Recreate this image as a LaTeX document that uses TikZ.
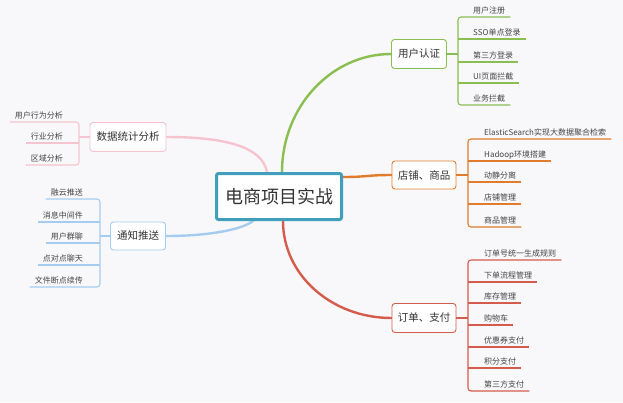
\documentclass[tikz,border=0pt]{standalone}
\usepackage{fontspec}
\setmainfont{Noto Sans CJK SC}
\usetikzlibrary{calc,backgrounds}
\definecolor{bg}{RGB}{248,247,250}
\definecolor{cteal}{RGB}{64,160,188}
\definecolor{cgreen}{RGB}{138,190,80}
\definecolor{corange}{RGB}{224,124,44}
\definecolor{cred}{RGB}{212,92,76}
\definecolor{cpink}{RGB}{245,196,206}
\definecolor{cblue}{RGB}{164,204,240}
\definecolor{ctext}{RGB}{51,51,51}
\definecolor{cleaf}{RGB}{68,68,68}
\begin{document}
\begin{tikzpicture}[x=1pt,y=-1pt,
 root/.style={draw=cteal, line width=3pt, fill=white, rounded corners=2pt, minimum width=125pt, minimum height=46pt, font=\fontsize{18}{20}\selectfont, text=ctext, inner sep=0pt},
 topic/.style={draw=#1, line width=0.9pt, fill=white, rounded corners=3pt, font=\fontsize{10.5}{12}\selectfont, text=ctext, inner sep=0pt},
 leafR/.style={anchor=south west, inner xsep=5pt, inner ysep=1.5pt, text height=7pt, text depth=1.5pt, font=\fontsize{8}{9}\selectfont, text=cleaf},
 leafL/.style={anchor=south east, inner xsep=5pt, inner ysep=1.5pt, text height=7pt, text depth=1.5pt, font=\fontsize{8}{9}\selectfont, text=cleaf},
 branch/.style={draw=#1, line width=2.4pt, line cap=round},
 twig/.style={draw=#1, line width=1.1pt, rounded corners=3pt},
]
\useasboundingbox (0,0) rectangle (623,402);

% central and topic boxes
\node[root] (c) at (279,196.5) {电商项目实战};
\node[topic=cgreen, minimum width=55pt, minimum height=29pt] (t1) at (419,54) {用户认证};
\node[topic=corange, minimum width=64pt, minimum height=28pt] (t2) at (424,175) {店铺、商品};
\node[topic=cred, minimum width=64pt, minimum height=29pt] (t3) at (424,318) {订单、支付};
\node[topic=cpink, minimum width=76pt, minimum height=29pt] (t4) at (128,137) {数据统计分析};
\node[topic=cblue, minimum width=55pt, minimum height=28pt] (t5) at (138,236) {通知推送};

\begin{scope}[on background layer]
\fill[bg] (0,0) rectangle (623,402);
\draw[branch=cgreen] ([xshift=3pt]c.north) .. controls +(0,-65) and +(-60,0) .. (t1.west);
\draw[branch=corange] ([yshift=-5pt]c.north east) .. controls +(25,0) and +(-25,0) .. (t2.west);
\draw[branch=cred] ([xshift=4pt]c.south) .. controls +(0,54) and +(-60,0) .. (t3.west);
\draw[branch=cpink] (t4.east) .. controls +(60,0) and +(-5,-25) .. ([xshift=-12pt]c.north);
\draw[branch=cblue] (t5.east) .. controls +(45,0) and +(-10,8) .. ([xshift=-26pt]c.south);
\end{scope}

% green leaves
\coordinate (b1) at (458,54);
\node[leafR] (g1) at (468,17) {用户注册};
\node[leafR] (g2) at (468,39) {SSO单点登录};
\node[leafR] (g3) at (468,62) {第三方登录};
\node[leafR] (g4) at (468,83) {UI页面拦截};
\node[leafR] (g5) at (468,105) {业务拦截};
\draw[twig=cgreen] (t1.east) -- (b1);
\draw[twig=cgreen] (g1.south east) -- (g1.south east -| b1) -- (g5.south east -| b1) -- (g5.south east);
\foreach \i in {2,3,4} \draw[twig=cgreen] (b1 |- g\i.south east) -- (g\i.south east);

% orange leaves
\coordinate (b2) at (468,175);
\node[leafR] (o1) at (479,139) {ElasticSearch实现大数据聚合检索};
\node[leafR] (o2) at (479,161) {Hadoop环境搭建};
\node[leafR] (o3) at (479,182) {动静分离};
\node[leafR] (o4) at (479,204) {店铺管理};
\node[leafR] (o5) at (479,227) {商品管理};
\draw[twig=corange] (t2.east) -- (b2);
\draw[twig=corange] (o1.south east) -- (o1.south east -| b2) -- (o5.south east -| b2) -- (o5.south east);
\foreach \i in {2,3,4} \draw[twig=corange] (b2 |- o\i.south east) -- (o\i.south east);

% red leaves
\coordinate (b3) at (468,318);
\node[leafR] (r1) at (479,260) {订单号统一生成规则};
\node[leafR] (r2) at (479,282) {下单流程管理};
\node[leafR] (r3) at (479,303) {库存管理};
\node[leafR] (r4) at (479,325) {购物车};
\node[leafR] (r5) at (479,347) {优惠券支付};
\node[leafR] (r6) at (479,368) {积分支付};
\node[leafR] (r7) at (479,391) {第三方支付};
\draw[twig=cred] (t3.east) -- (b3);
\draw[twig=cred] (r1.south east) -- (r1.south east -| b3) -- (r7.south east -| b3) -- (r7.south east);
\foreach \i in {2,...,6} \draw[twig=cred] (b3 |- r\i.south east) -- (r\i.south east);

% pink leaves
\coordinate (b4) at (79,137);
\node[leafL] (p1) at (68,122) {用户行为分析};
\node[leafL] (p2) at (68,143) {行业分析};
\node[leafL] (p3) at (68,165) {区域分析};
\draw[twig=cpink] (t4.west) -- (b4);
\draw[twig=cpink] (p1.south west) -- (p1.south west -| b4) -- (p3.south west -| b4) -- (p3.south west);
\draw[twig=cpink] (b4 |- p2.south west) -- (p2.south west);

% blue leaves
\coordinate (b5) at (100,236);
\node[leafL] (u1) at (88,199) {融云推送};
\node[leafL] (u2) at (88,222) {消息中间件};
\node[leafL] (u3) at (88,243) {用户群聊};
\node[leafL] (u4) at (88,265) {点对点聊天};
\node[leafL] (u5) at (88,287) {文件断点续传};
\draw[twig=cblue] (t5.west) -- (b5);
\draw[twig=cblue] (u1.south west) -- (u1.south west -| b5) -- (u5.south west -| b5) -- (u5.south west);
\foreach \i in {2,3,4} \draw[twig=cblue] (b5 |- u\i.south west) -- (u\i.south west);
\end{tikzpicture}
\end{document}
